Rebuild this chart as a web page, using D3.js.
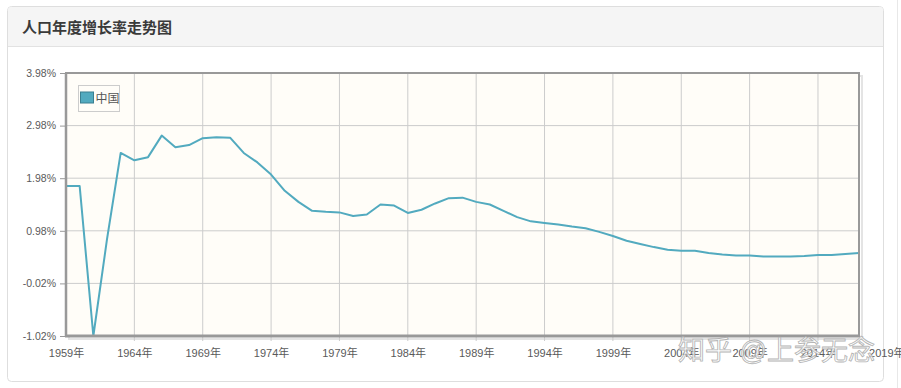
<!DOCTYPE html>
<html>
<head>
    <meta charset="utf-8">
    <title>popGrowth</title>
    <script src="https://d3js.org/d3.v7.min.js"></script>
    <style>
        body { margin: 0; background: #fff; }
        text { font-family: "Liberation Sans", "Noto Sans CJK SC", sans-serif; }
    </style>
</head>
<body>
    <svg width="901" height="388" id="mainsvg"></svg>
    <script>
        // 人口年度增长率 (%)
        const years = d3.range(1959, 2018);
        const rates = [
            1.83, 1.83, -1.02, 0.82, 2.46, 2.32, 2.38, 2.79, 2.57, 2.61,
            2.74, 2.76, 2.75, 2.46, 2.28, 2.05, 1.74, 1.53, 1.36, 1.34,
            1.33, 1.26, 1.29, 1.48, 1.46, 1.32, 1.38, 1.50, 1.60, 1.61,
            1.53, 1.48, 1.36, 1.24, 1.16, 1.13, 1.10, 1.06, 1.03, 0.96,
            0.88, 0.79, 0.73, 0.67, 0.62, 0.60, 0.60, 0.56, 0.53, 0.51,
            0.51, 0.49, 0.49, 0.49, 0.50, 0.52, 0.52, 0.54, 0.56
        ];
        const yTicks = [-1.02, -0.02, 0.98, 1.98, 2.98, 3.98];
        const xTicks = d3.range(1959, 2020, 5);
        const seriesName = '中国';
        const title = '人口年度增长率走势图';

        const svg = d3.select('#mainsvg');
        const plot = { left: 66, right: 859, top: 73, bottom: 336 };
        const lineColor = '#52aabf';

        // panel + header
        svg.append('rect').attr('x', 7.5).attr('y', 6.5).attr('width', 876).attr('height', 375)
            .attr('rx', 4).attr('fill', '#fff').attr('stroke', '#dedede');
        svg.append('path').attr('d', 'M8,46 V10 Q8,7 11,7 H880 Q883,7 883,10 V46 Z').attr('fill', '#f5f5f5');
        svg.append('line').attr('x1', 8).attr('x2', 883).attr('y1', 46.5).attr('y2', 46.5).attr('stroke', '#e2e2e2');
        svg.append('text').text(title).attr('x', 22).attr('y', 33)
            .attr('font-size', '15px').attr('font-weight', 'bold').attr('fill', '#3a3a3a');
        svg.append('line').attr('x1', 897.5).attr('x2', 897.5).attr('y1', 0).attr('y2', 388).attr('stroke', '#e8e8e8');

        const xScale = d3.scaleLinear().domain([1959, 2017]).range([plot.left, plot.right]);
        const yScale = d3.scaleLinear().domain([-1.02, 3.98]).range([plot.bottom, plot.top]);

        // plot background + shadow
        svg.append('rect').attr('x', plot.left + 3).attr('y', plot.top + 3)
            .attr('width', plot.right - plot.left).attr('height', plot.bottom - plot.top)
            .attr('fill', 'none').attr('stroke', '#e4e4e4').attr('stroke-width', 2);
        svg.append('rect').attr('x', plot.left).attr('y', plot.top)
            .attr('width', plot.right - plot.left).attr('height', plot.bottom - plot.top)
            .attr('fill', '#fffdf8');

        // grid
        const grid = svg.append('g');
        grid.selectAll('.hg').data(yTicks).join('line')
            .attr('x1', plot.left).attr('x2', plot.right)
            .attr('y1', d => yScale(d)).attr('y2', d => yScale(d))
            .attr('stroke', '#cccccc');
        grid.selectAll('.vg').data(xTicks.filter(d => d > 1959 && d < 2017)).join('line')
            .attr('x1', d => xScale(d)).attr('x2', d => xScale(d))
            .attr('y1', plot.top).attr('y2', plot.bottom + 5)
            .attr('stroke', '#cccccc');

        // axes
        const yAxis = d3.axisLeft(yScale).tickValues(yTicks).tickSize(6).tickPadding(4)
            .tickFormat(d => d.toFixed(2) + '%');
        const yg = svg.append('g').attr('transform', `translate(${plot.left},0)`).call(yAxis);
        yg.select('.domain').remove();
        yg.selectAll('.tick line').attr('stroke', '#999');
        yg.selectAll('.tick text').attr('font-size', '10.5px').attr('fill', '#5a5a5a')
            .attr('font-family', '"Liberation Sans", sans-serif');

        const xAxis = d3.axisBottom(xScale).tickValues(xTicks).tickSize(0).tickPadding(13)
            .tickFormat(d => d + '年');
        const xg = svg.append('g').attr('transform', `translate(0,${plot.bottom})`).call(xAxis);
        xg.select('.domain').remove();
        xg.selectAll('.tick text').attr('font-size', '11px').attr('fill', '#5a5a5a');

        // series line
        const line = d3.line().x((d, i) => xScale(years[i])).y(d => yScale(d));
        svg.append('path').datum(rates).attr('d', line)
            .attr('fill', 'none').attr('stroke', lineColor).attr('stroke-width', 2)
            .attr('stroke-linejoin', 'round');

        // plot border
        svg.append('rect').attr('x', plot.left).attr('y', plot.top)
            .attr('width', plot.right - plot.left).attr('height', plot.bottom - plot.top)
            .attr('fill', 'none').attr('stroke', '#999').attr('stroke-width', 2);
        svg.append('line').attr('x1', plot.left - 1).attr('x2', plot.right + 1)
            .attr('y1', plot.bottom).attr('y2', plot.bottom).attr('stroke', '#999').attr('stroke-width', 3);
        svg.append('line').attr('x1', plot.left).attr('x2', plot.left)
            .attr('y1', plot.top).attr('y2', plot.bottom).attr('stroke', '#999').attr('stroke-width', 2.5);

        // legend
        const lg = svg.append('g').attr('transform', 'translate(78.5,85.5)');
        lg.append('rect').attr('width', 41).attr('height', 26).attr('fill', '#fffdf8').attr('stroke', '#ccc');
        lg.append('rect').attr('x', 2).attr('y', 6.5).attr('width', 13).attr('height', 11)
            .attr('fill', lineColor).attr('stroke', '#3a7f90');
        lg.append('text').text(seriesName).attr('x', 17).attr('y', 17)
            .attr('font-size', '12px').attr('fill', '#555');

        // watermark
        svg.append('text').text('知乎 @上参无念').attr('x', 678).attr('y', 360)
            .attr('font-size', '27px').attr('fill', '#fff').attr('fill-opacity', 0.75)
            .attr('stroke', '#a8a8a8').attr('stroke-width', 0.9).attr('stroke-opacity', 0.85)
            .attr('font-family', '"Noto Sans CJK SC", sans-serif');
    </script>
</body>
</html>
